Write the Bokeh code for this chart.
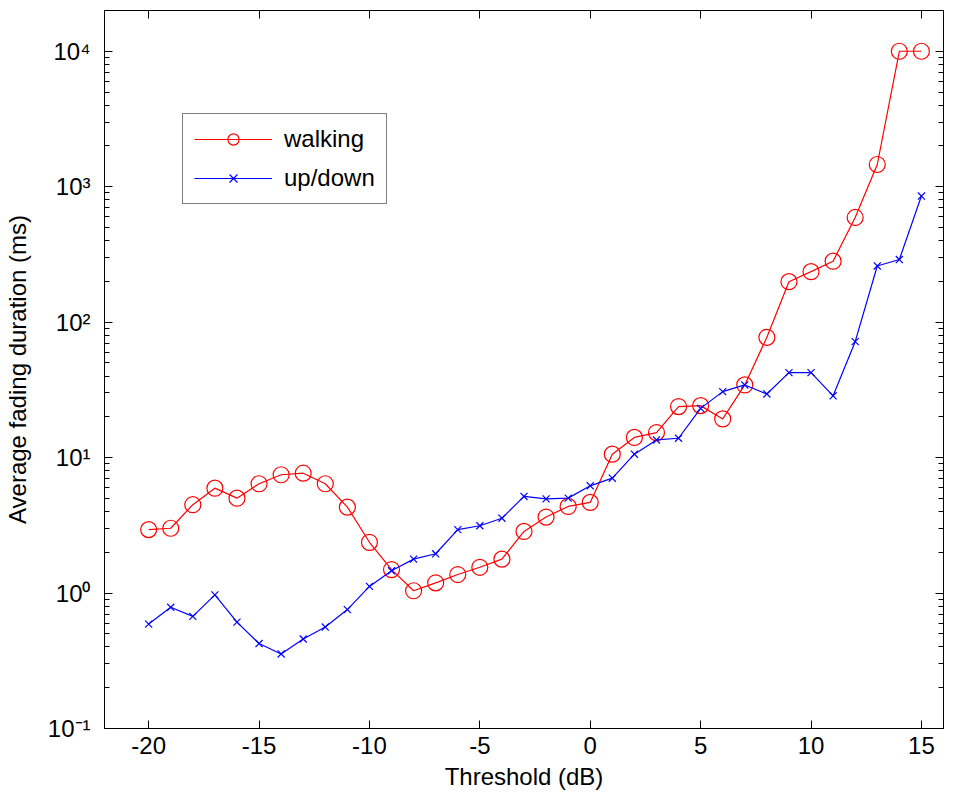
from bokeh.plotting import figure
from bokeh.models import Range1d, FixedTicker, LogAxis, LinearAxis, Legend, LegendItem, CustomJSTickFormatter
from bokeh.embed import file_html
from bokeh.resources import INLINE

# ---- data ----
threshold_db = list(range(-20, 16))
walking = [2.94, 3.01, 4.49, 5.95, 5.02, 6.41, 7.47, 7.67, 6.41, 4.31,
           2.37, 1.49, 1.04, 1.19, 1.37, 1.55, 1.78, 2.85, 3.64, 4.36,
           4.67, 10.6, 14.1, 15.3, 23.8, 24.2, 19.3, 34.4, 77.3, 199,
           236, 282, 593, 1459, 10000, 10000]
updown = [0.59, 0.785, 0.673, 0.97, 0.61, 0.424, 0.355, 0.458, 0.561, 0.755,
          1.12, 1.46, 1.78, 1.95, 2.94, 3.14, 3.57, 5.17, 4.96, 5.02,
          6.19, 7.05, 10.6, 13.5, 13.9, 23.1, 30.7, 34.4, 29.5, 42.4,
          42.4, 28.6, 71.8, 260, 290, 853]
x_ticks = [-20, -15, -10, -5, 0, 5, 10, 15]
x_tick_labels = ["-20", "-15", "-10", "-5", "0", "5", "10", "15"]
y_ticks = [0.1, 1, 10, 100, 1000, 10000]
y_tick_labels = ["10\u207b\u00b9", "10\u2070", "10\u00b9", "10\u00b2", "10\u00b3", "10\u2074"]
series_names = ["walking", "up/down"]

FONT = "Liberation Sans"
FS = "24px"

y_minor = [m * t for t in y_ticks[:-1] for m in range(2, 10)] + [2 * y_ticks[-1]]

p = figure(width=955, height=811, y_axis_type="log",
           x_range=Range1d(-22, 16), y_range=Range1d(0.1, 2e4),
           output_backend="svg", toolbar_location=None,
           min_border_left=102, min_border_right=12, min_border_top=10, min_border_bottom=83)
p.background_fill_color = "white"
p.border_fill_color = "white"
p.outline_line_color = "black"
p.outline_line_width = 1
p.xgrid.visible = False
p.ygrid.visible = False

xt = FixedTicker(ticks=x_ticks, minor_ticks=[])
yt = FixedTicker(ticks=y_ticks, minor_ticks=y_minor)

def style(ax, labels=True):
    ax.axis_line_color = "black"
    ax.axis_line_width = 1
    ax.major_tick_in = 8
    ax.major_tick_out = 0
    ax.minor_tick_in = 5
    ax.minor_tick_out = 0
    ax.major_tick_line_color = "black"
    ax.minor_tick_line_color = "black"
    ax.major_label_text_font = FONT
    ax.major_label_text_color = "black"
    if labels:
        ax.major_label_text_font_size = FS
    else:
        ax.major_label_text_font_size = "1px"
        ax.major_label_standoff = 0
        ax.formatter = CustomJSTickFormatter(code="return ''")

xa = p.xaxis[0]
xa.ticker = xt
style(xa)
xa.major_label_standoff = 8
xa.major_label_overrides = {v: s for v, s in zip(x_ticks, x_tick_labels)}
xa.axis_label = "Threshold (dB)"
xa.axis_label_text_font = FONT
xa.axis_label_text_font_size = FS
xa.axis_label_text_font_style = "normal"
xa.axis_label_text_color = "black"
xa.axis_label_standoff = 6

ya = p.yaxis[0]
ya.ticker = yt
style(ya)
ya.major_label_standoff = 14
ya.major_label_overrides = {v: s for v, s in zip(y_ticks, y_tick_labels)}
ya.axis_label = "Average fading duration (ms)"
ya.axis_label_text_font = FONT
ya.axis_label_text_font_size = FS
ya.axis_label_text_font_style = "normal"
ya.axis_label_text_color = "black"
ya.axis_label_standoff = 14

top = LinearAxis(ticker=FixedTicker(ticks=x_ticks, minor_ticks=[]))
style(top, labels=False)
p.add_layout(top, "above")
right = LogAxis(ticker=FixedTicker(ticks=y_ticks, minor_ticks=y_minor))
style(right, labels=False)
p.add_layout(right, "right")

l1 = p.line(threshold_db, walking, line_color="#ff0000", line_width=1.2)
s1 = p.scatter(threshold_db, walking, marker="circle", size=16, fill_color=None,
               line_color="#ff0000", line_width=1.2)
l2 = p.line(threshold_db, updown, line_color="#0000ff", line_width=1.2)
s2 = p.scatter(threshold_db, updown, marker="x", size=10, line_color="#0000ff", line_width=1.2)

legend = Legend(items=[LegendItem(label=series_names[0], renderers=[l1, s1]),
                       LegendItem(label=series_names[1], renderers=[l2, s2])],
                location=(78, 524))
legend.label_text_font = FONT
legend.label_text_font_size = FS
legend.label_text_color = "black"
legend.border_line_color = "black"
legend.border_line_width = 1
legend.background_fill_color = "white"
legend.background_fill_alpha = 1
legend.glyph_width = 78
legend.glyph_height = 28
legend.label_height = 28
legend.label_standoff = 12
legend.spacing = 11
legend.padding = 11
legend.margin = 0
p.add_layout(legend)

open("out.html", "w").write(file_html(p, INLINE))
